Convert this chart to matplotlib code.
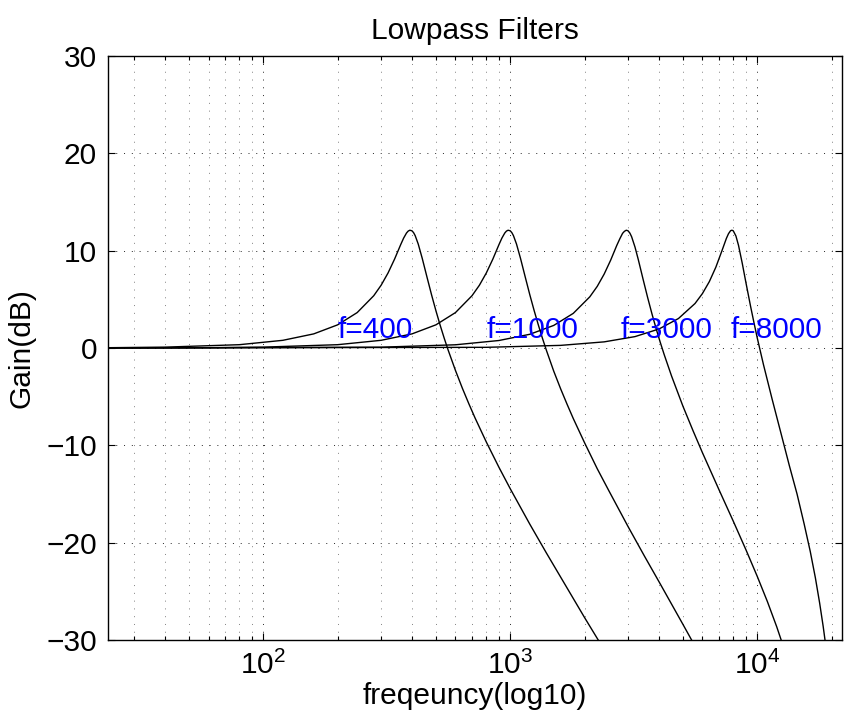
import matplotlib
matplotlib.use("Agg")
import matplotlib.pyplot as plt
from matplotlib.ticker import LogLocator, NullFormatter

plt.rcParams["font.family"] = ["Liberation Sans", "DejaVu Sans"]
plt.rcParams["mathtext.fontset"] = "custom"
plt.rcParams["mathtext.rm"] = "Liberation Sans"

# gain curves (dB), one pair of lists per cutoff
f_400 = [23.5, 40, 80, 120, 160, 200, 240, 280, 300, 320, 340, 360, 370, 380, 386,
         392, 400, 406, 412, 424, 440, 460, 480, 500, 520, 540, 560, 600, 640, 680,
         720, 800, 900, 1000, 1200, 1400, 1600, 2000, 2400]
g_400 = [0.03, 0.09, 0.34, 0.79, 1.45, 2.38, 3.64, 5.37, 6.45, 7.71, 9.13, 10.62, 11.29,
         11.81, 12.01, 12.1, 12.04, 11.85, 11.55, 10.68, 9.22, 7.29, 5.47, 3.83, 2.35,
         1.02, -0.19, -2.31, -4.14, -5.74, -7.18, -9.66, -12.26, -14.46, -18.1, -21.05,
         -23.54, -27.7, -31.0]

f_1000 = [23.5, 60, 100, 200, 300, 400, 500, 600, 700, 750, 800, 850, 900, 925, 950,
          965, 980, 1000, 1015, 1030, 1060, 1100, 1150, 1200, 1250, 1300, 1350, 1400,
          1500, 1600, 1700, 1800, 2000, 2250, 2500, 3000, 3500, 4000, 5000, 6000]
g_1000 = [0.0, 0.03, 0.09, 0.34, 0.79, 1.45, 2.38, 3.64, 5.37, 6.45, 7.71, 9.13, 10.62,
          11.29, 11.81, 12.01, 12.1, 12.04, 11.85, 11.55, 10.68, 9.22, 7.29, 5.47, 3.83,
          2.35, 1.0, -0.22, -2.38, -4.2, -5.8, -7.25, -9.74, -12.4, -14.6, -18.35, -21.41,
          -24.0, -28.38, -32.0]

f_3000 = [23.5, 300, 600, 900, 1200, 1500, 1800, 2100, 2250, 2400, 2550, 2700, 2780,
          2850, 2900, 2950, 3000, 3050, 3100, 3200, 3300, 3450, 3600, 3750, 3900, 4050,
          4200, 4500, 5000, 5500, 6000, 7000, 8000, 9000, 10000, 11000, 12000, 13000]
g_3000 = [0.0, 0.085, 0.33, 0.77, 1.41, 2.32, 3.56, 5.26, 6.33, 7.59, 9.02, 10.54, 11.24,
          11.78, 11.99, 12.1, 12.04, 11.81, 11.44, 10.37, 9.08, 7.07, 5.19, 3.49, 1.96,
          0.58, -0.67, -2.88, -5.96, -8.51, -10.75, -14.55, -17.79, -20.72, -23.45,
          -26.06, -28.65, -31.27]

f_8000 = [23.5, 800, 1600, 2400, 3200, 4000, 4800, 5600, 6000, 6400, 6800, 7200, 7500,
          7650, 7800, 7900, 8000, 8200, 8400, 8700, 9000, 9400, 9700, 10000, 10600, 11500,
          12500, 13500, 14500, 15500, 16400, 17200, 17900, 18500, 19050, 19400]
g_8000 = [0.0, 0.07, 0.27, 0.63, 1.17, 1.95, 3.03, 4.57, 5.59, 6.82, 8.3, 10.0, 11.25,
          11.74, 12.05, 12.1, 12.04, 11.51, 10.55, 8.7, 6.73, 4.29, 2.62, 1.06, -1.7, -5.28,
          -8.82, -12.1, -15.0, -18.1, -20.9, -23.6, -26.2, -28.6, -31.0, -32.6]

curves = [(f_400, g_400), (f_1000, g_1000), (f_3000, g_3000), (f_8000, g_8000)]

# labels sit at (cutoff - 200 Hz, ~1 dB)
label_freqs = [200, 800, 2800, 7800]
label_texts = ["f=400", "f=1000", "f=3000", "f=8000"]
label_gain = 1.05

fig = plt.figure(figsize=(8.45, 7.2), dpi=100)
ax = fig.add_axes([108 / 845, 80 / 720, 734 / 845, 584 / 720])

for f, g in curves:
    ax.plot(f, g, color="black", lw=1.0)

for fx, txt in zip(label_freqs, label_texts):
    ax.text(fx, label_gain, txt, color="blue", fontsize=21.5, ha="left", va="baseline")

ax.set_xscale("log")
ax.set_xlim(23.5, 22050)
ax.set_ylim(-30, 30)
ax.set_yticks(range(-30, 31, 10))
ax.xaxis.set_major_locator(LogLocator(base=10, numticks=10))
ax.xaxis.set_minor_locator(LogLocator(base=10, subs=range(2, 10), numticks=20))
ax.xaxis.set_minor_formatter(NullFormatter())

ax.grid(True, which="major", axis="both", color="0.15", lw=0.7, linestyle=(0, (1, 7)))
ax.grid(True, which="minor", axis="x", color="0.5", lw=0.7, linestyle=(0, (1, 7)))

ax.tick_params(which="both", direction="in", top=True, right=True, labelsize=21.5, width=0.8)
ax.tick_params(which="major", length=5, pad=8)
ax.tick_params(which="minor", length=3)
for s in ax.spines.values():
    s.set_linewidth(1.0)

ax.set_title("Lowpass Filters", fontsize=21.5, pad=12)
ax.set_xlabel("freqeuncy(log10)", fontsize=21.5, labelpad=1)
ax.set_ylabel("Gain(dB)", fontsize=21.5, labelpad=8)

fig.savefig("out.png", dpi=100)
